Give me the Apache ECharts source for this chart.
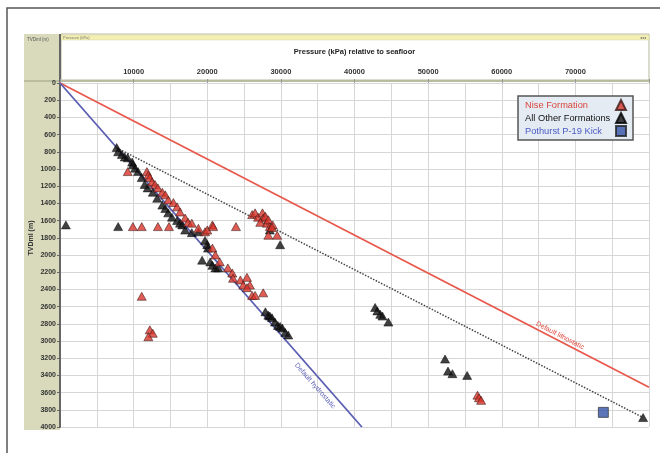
<!DOCTYPE html>
<html>
<head>
<meta charset="utf-8">
<script src="https://cdn.jsdelivr.net/npm/echarts@6/dist/echarts.min.js"></script>
<style>
  html, body { margin: 0; padding: 0; background: #fff; }
  #chart { width: 660px; height: 453px; }
</style>
</head>
<body>
<div id="chart"></div>
<script>
// pressure (kPa) / depth TVDml (m) pairs
const otherFormations = [
  [7700, 750], [7900, 800], [8400, 830], [8800, 860], [9200, 870], [9800, 920],
  [9900, 950], [10200, 990], [10600, 1030], [11100, 1100], [11500, 1180], [11900, 1220],
  [12600, 1270], [13200, 1340], [13900, 1420], [14300, 1460], [14700, 1510], [15200, 1560],
  [15900, 1600], [16300, 1630], [16600, 1650], [17000, 1710], [17900, 1740], [18800, 1730],
  [19700, 1830], [20000, 1880], [20100, 1920], [19300, 2060], [20400, 2080], [20700, 2120],
  [21100, 2150], [21500, 2150],
  [27900, 2660], [28300, 2700], [28500, 2710], [28800, 2730], [29200, 2780], [29600, 2820],
  [29900, 2830], [30200, 2850], [30600, 2900], [31000, 2930],
  [29900, 1880], [28500, 1710], [7900, 1670], [800, 1650],
  [42800, 2610], [43100, 2650], [43500, 2690], [43800, 2710], [44600, 2780],
  [52300, 3210], [52700, 3350], [53300, 3380], [55300, 3400], [79200, 3890]
];
const niseFormation = [
  [9200, 1030], [11800, 1030], [12000, 1070], [12200, 1100], [12500, 1150], [12900, 1180],
  [13300, 1220], [13900, 1270], [14300, 1300], [14700, 1360], [15400, 1390], [15900, 1440],
  [16300, 1500], [17000, 1570], [17400, 1620], [17900, 1630], [18800, 1690], [19700, 1730],
  [20000, 1710], [20700, 1650], [20800, 1670],
  [9900, 1670], [11100, 1670], [13300, 1670], [14800, 1670], [23900, 1670],
  [26100, 1530], [26500, 1510], [26900, 1560], [27500, 1510], [27600, 1570], [27900, 1550],
  [27200, 1620], [28100, 1630], [28300, 1590], [28500, 1670], [28900, 1650], [28800, 1680],
  [28300, 1770], [29500, 1770],
  [20700, 1920], [21100, 2000], [21700, 2080], [22800, 2150], [23400, 2210], [23500, 2270],
  [24500, 2290], [25400, 2260], [24900, 2350], [25800, 2350], [25400, 2380], [26100, 2470],
  [26500, 2470], [27600, 2440],
  [11100, 2480], [12200, 2870], [12600, 2910], [12000, 2950],
  [56700, 3630], [56900, 3660], [57200, 3690]
];
const pothurstKick = [[73800, 3830]];
const lithostatic = [[0, 0], [80000, 3537]];
const hydrostatic = [[0, 0], [41000, 4000]];
const trendLine = [[7700, 754], [79200, 3890]];

const FONT = 'Liberation Sans, Arial, sans-serif';

const chart = echarts.init(document.getElementById('chart'));

const option = {
  animation: false,
  backgroundColor: '#fff',
  grid: { left: 60, right: 11, top: 83, bottom: 26, containLabel: false },
  graphic: [
    { type: 'rect', z: -10, shape: { x: 7, y: 8, width: 700, height: 500 },
      style: { fill: '#fff', stroke: '#555', lineWidth: 1.5 } },
    { type: 'rect', z: -9, shape: { x: 24, y: 34, width: 36, height: 396 },
      style: { fill: '#d8dabb' } },
    { type: 'rect', z: -9, shape: { x: 61, y: 34, width: 588, height: 46 },
      style: { fill: '#fff', stroke: '#b6b99c', lineWidth: 1 } },
    { type: 'rect', z: -8, shape: { x: 61, y: 35, width: 588, height: 5 },
      style: { fill: '#f4efb2', stroke: '#d9d49c', lineWidth: 0.5 } },
    { type: 'line', z: -8, shape: { x1: 24, y1: 81, x2: 649, y2: 81 },
      style: { stroke: '#b9bc9e', lineWidth: 2 } },
    { type: 'line', z: -8, shape: { x1: 60, y1: 34, x2: 60, y2: 82 },
      style: { stroke: '#666', lineWidth: 2 } },
    { type: 'text', z: -7, x: 27, y: 40,
      style: { text: 'TVDml (m)', font: '4.5px ' + FONT, fill: '#555', textVerticalAlign: 'middle' } },
    { type: 'text', z: -7, x: 63, y: 37.5,
      style: { text: 'Pressure (kPa)', font: '4px ' + FONT, fill: '#777', textVerticalAlign: 'middle' } },
    { type: 'text', z: -7, x: 646, y: 37.5,
      style: { text: '◂◂◂', font: '4px ' + FONT, fill: '#777', textAlign: 'right', textVerticalAlign: 'middle' } }
  ],
  legend: {
    data: [
      { name: 'Nise Formation', textStyle: { color: '#d9463c' } },
      { name: 'All Other Formations', textStyle: { color: '#111' } },
      { name: 'Pothurst P-19 Kick', textStyle: { color: '#4a5bc4' } }
    ],
    orient: 'vertical',
    align: 'right',
    left: 518,
    top: 96,
    padding: [3, 6, 3, 7],
    itemGap: 1,
    itemWidth: 10,
    itemHeight: 10,
    backgroundColor: '#e4ebf3',
    borderColor: '#555',
    borderWidth: 1.5,
    formatter: name => '{t|' + name + '}',
    textStyle: {
      fontSize: 9.3, fontFamily: FONT,
      rich: { t: { width: 86, align: 'left', fontSize: 9.3, fontFamily: FONT } }
    }
  },
  xAxis: [
    {
      type: 'value', position: 'top', min: 0, max: 80000, interval: 10000,
      name: 'Pressure (kPa) relative to seafloor',
      nameLocation: 'middle', nameGap: 27, nameMoveOverlap: false,
      nameTextStyle: { fontSize: 7.5, fontWeight: 'bold', color: '#222', fontFamily: FONT },
      axisLine: { show: false },
      axisTick: { show: true, length: 4, lineStyle: { color: '#999' } },
      axisLabel: {
        margin: 7, fontSize: 7.5, fontWeight: 'bold', color: '#333', fontFamily: FONT,
        formatter: v => (v === 0 || v === 80000) ? '' : String(v)
      },
      splitLine: { show: false }
    },
    {
      type: 'value', position: 'top', min: 0, max: 80000, interval: 5000,
      axisLine: { show: false }, axisTick: { show: false }, axisLabel: { show: false },
      splitLine: { show: true, lineStyle: { color: '#d6d6d6', width: 1 } }
    }
  ],
  yAxis: {
    type: 'value', inverse: true, min: 0, max: 4000, interval: 200,
    name: 'TVDml (m)', nameLocation: 'middle', nameGap: 25, nameMoveOverlap: false,
    nameTextStyle: { fontSize: 7, fontWeight: 'bold', color: '#333', fontFamily: FONT, padding: [0, 0, 0, 34] },
    axisLine: { show: true, lineStyle: { color: '#666', width: 2 } },
    axisTick: { show: true, length: 3, lineStyle: { color: '#666' } },
    axisLabel: {
      margin: 4, fontSize: 7, fontWeight: 'bold', color: '#333', fontFamily: FONT,
      formatter: v => String(v)
    },
    splitLine: { show: true, lineStyle: { color: '#d6d6d6', width: 1 } }
  },
  series: [
    {
      name: 'lithostatic', type: 'line', data: lithostatic, symbol: 'none', silent: true,
      lineStyle: { color: '#e9584c', width: 1.8 }, z: 2
    },
    {
      name: 'hydrostatic', type: 'line', data: hydrostatic, symbol: 'none', silent: true,
      lineStyle: { color: '#5a5eb3', width: 1.8 }, z: 2
    },
    {
      name: 'trend', type: 'line', data: trendLine, symbol: 'none', silent: true,
      lineStyle: { color: '#444', width: 1.5, type: [1.5, 1.5] }, z: 2
    },
    {
      name: 'All Other Formations', type: 'scatter', data: otherFormations,
      symbol: 'triangle', symbolSize: [9, 8],
      itemStyle: { color: '#111', borderColor: '#000', borderWidth: 0.6 }, z: 3
    },
    {
      name: 'Nise Formation', type: 'scatter', data: niseFormation,
      symbol: 'triangle', symbolSize: [9, 8],
      itemStyle: { color: '#d8342b', borderColor: '#3a1a18', borderWidth: 0.7 }, z: 4
    },
    {
      name: 'Pothurst P-19 Kick', type: 'scatter', data: pothurstKick,
      symbol: 'rect', symbolSize: 10,
      itemStyle: { color: '#3353a8', borderColor: '#222', borderWidth: 0.8 }, z: 5
    }
  ]
};

chart.setOption(option);

// rotated labels running along the two default gradient lines
function lineLabel(id, text, line, t, offset, color) {
  const a = chart.convertToPixel({ gridIndex: 0 }, line[0]);
  const b = chart.convertToPixel({ gridIndex: 0 }, line[1]);
  const dx = b[0] - a[0], dy = b[1] - a[1];
  const len = Math.sqrt(dx * dx + dy * dy);
  const nx = -dy / len, ny = dx / len;
  return {
    type: 'text', id: id,
    x: a[0] + dx * t + nx * offset,
    y: a[1] + dy * t + ny * offset,
    rotation: -Math.atan2(dy, dx),
    style: { text: text, font: '7px ' + FONT, fill: color, textAlign: 'center', textVerticalAlign: 'middle' },
    z: 6
  };
}

chart.setOption({
  graphic: option.graphic.concat([
    lineLabel('litho', 'Default lithostatic', lithostatic, 0.845, -5, '#e0483c'),
    lineLabel('hydro', 'Default hydrostatic', hydrostatic, 0.865, 8, '#5a5eb3')
  ])
});
</script>
</body>
</html>
